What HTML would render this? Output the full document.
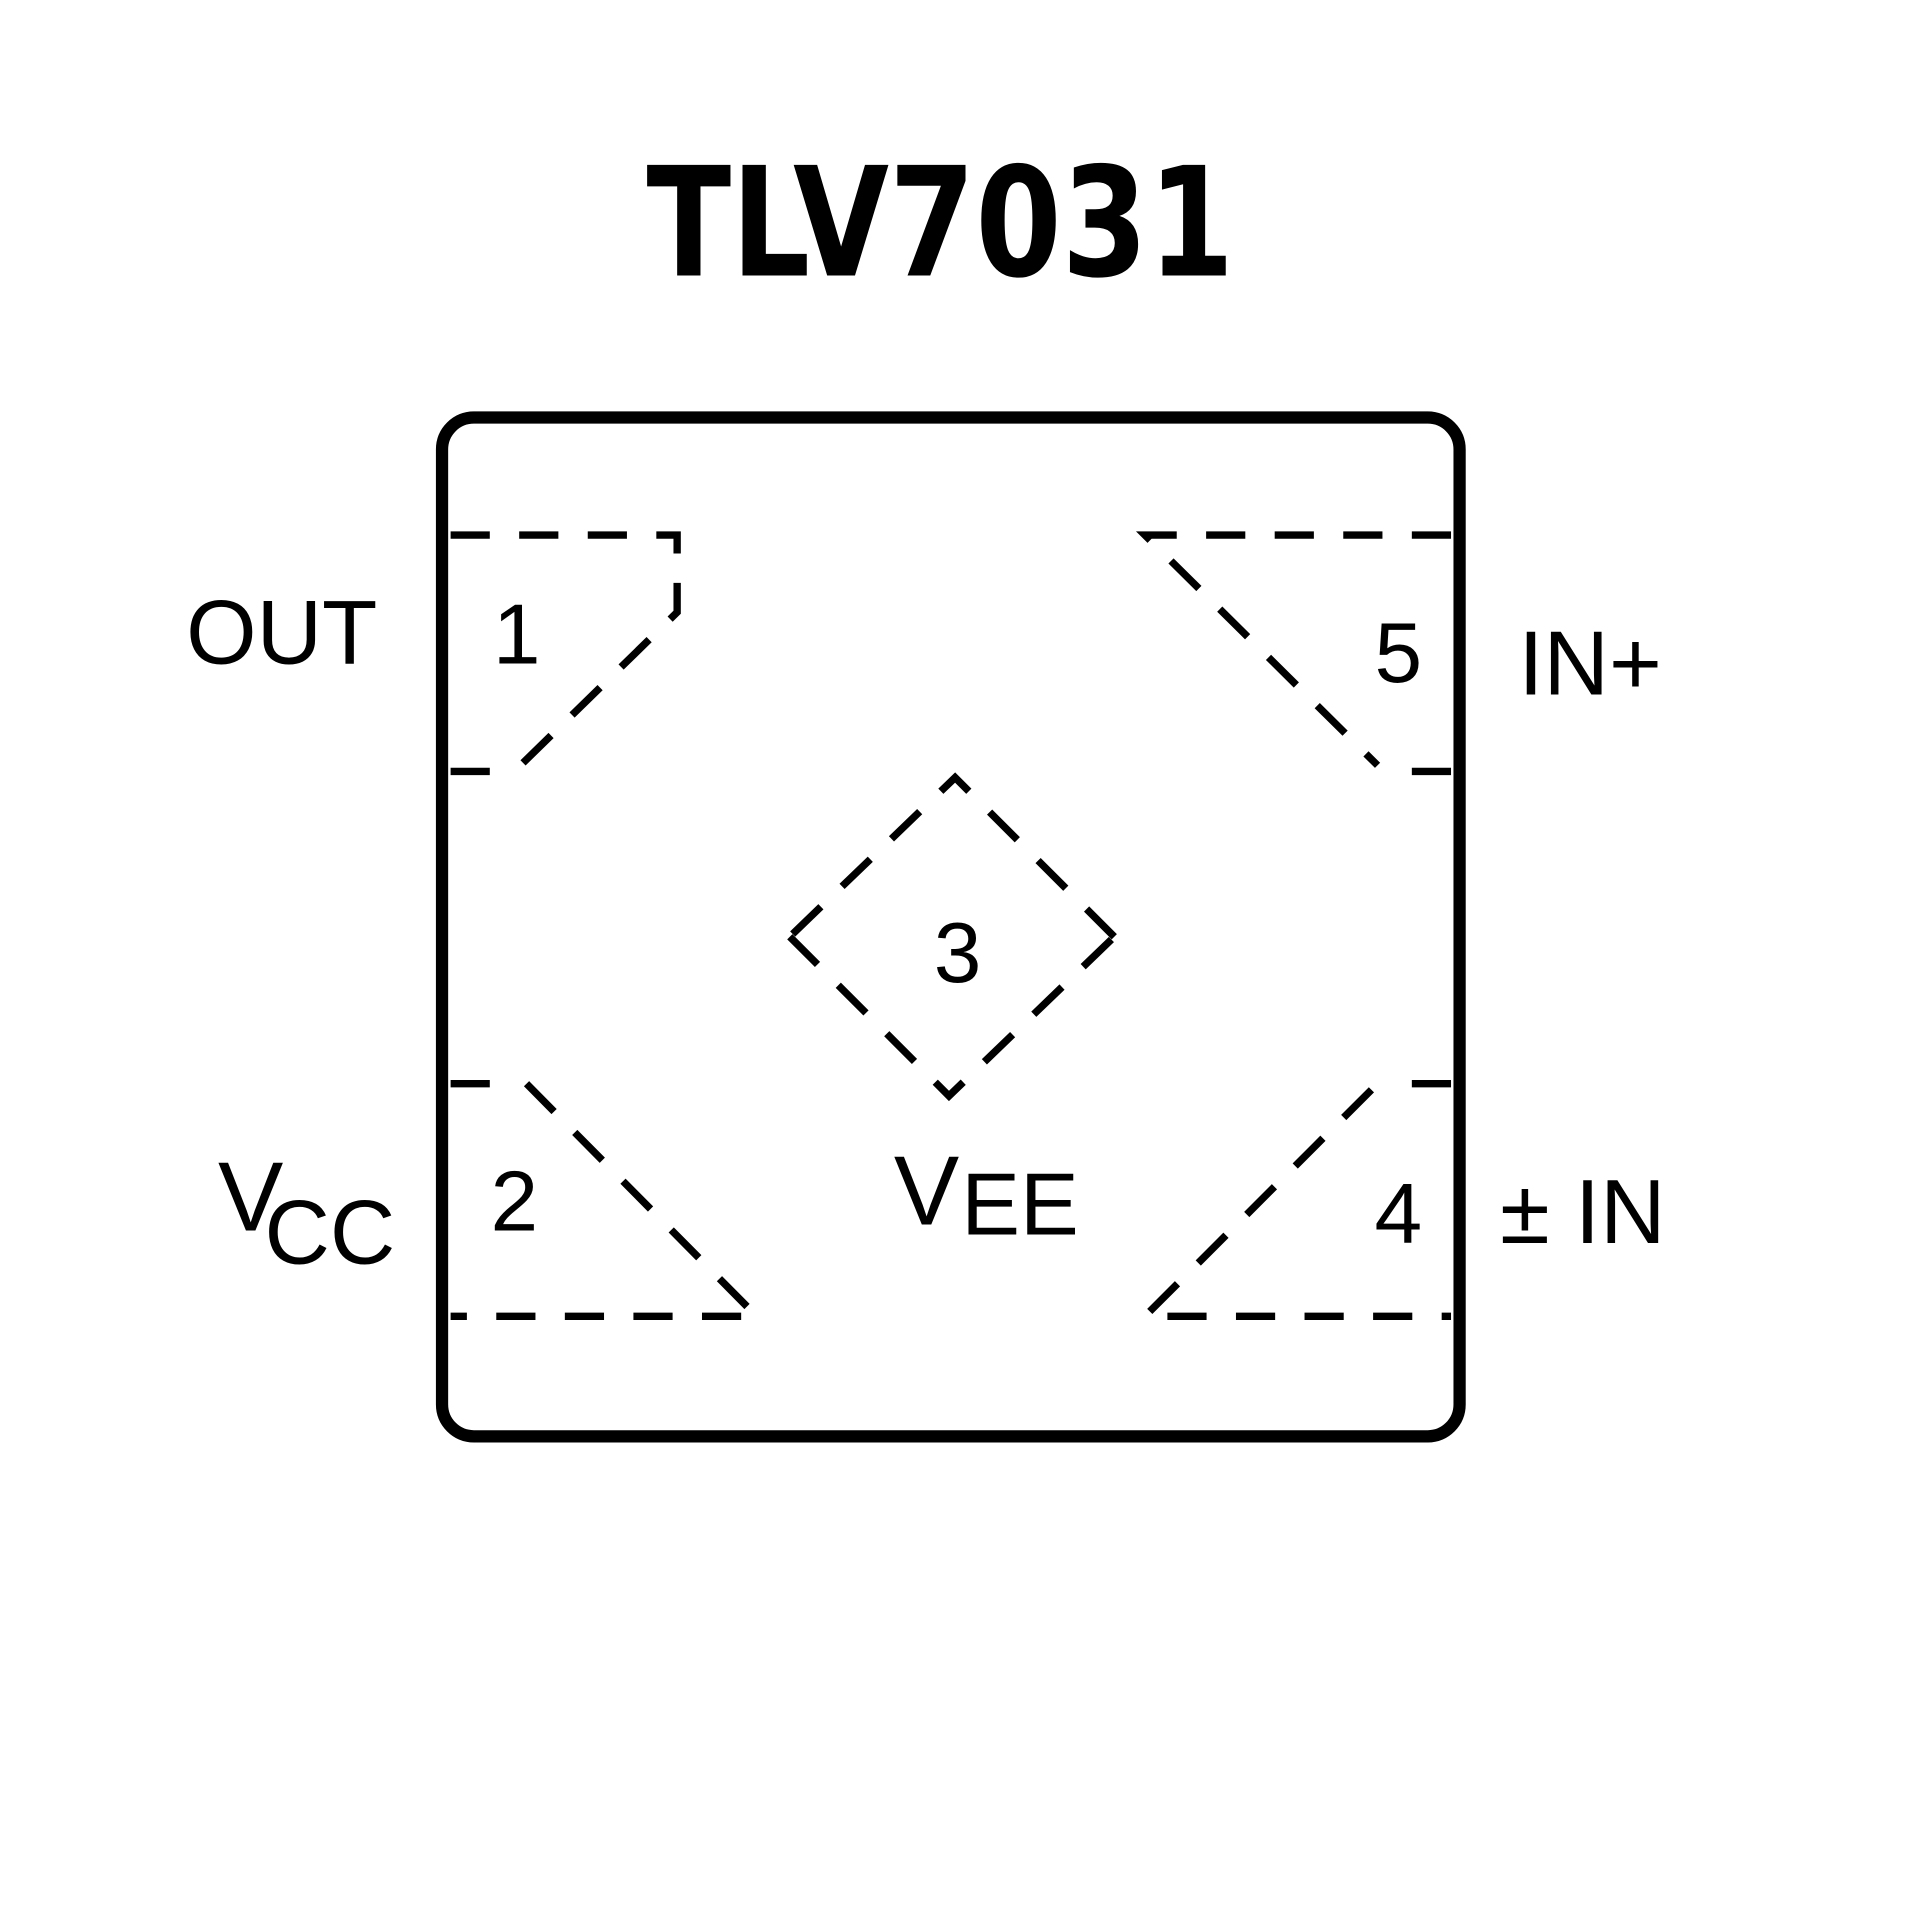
<!DOCTYPE html>
<html><head><meta charset="utf-8"><style>html,body{margin:0;padding:0;background:#fff}svg{display:block}</style></head>
<body>
<svg width="1920" height="1920" viewBox="0 0 1568 1568" xmlns="http://www.w3.org/2000/svg">
<rect x="0" y="0" width="1568" height="1568" fill="#fff"/>
<text x="528" y="225" textLength="480" lengthAdjust="spacingAndGlyphs" font-family="'DejaVu Sans','Liberation Sans',sans-serif" font-weight="bold" font-size="124" fill="#000">TLV7031</text>
<rect x="361" y="341" width="831" height="832" rx="26" ry="26" fill="none" stroke="#000" stroke-width="10"/>
<g fill="none" stroke="#000" stroke-width="6" stroke-dasharray="32 24">
<path d="M368 437 H553 V500 L420 630"/>
<path d="M368 630 H400"/>
<path d="M1185 437 H935 L1125 625"/>
<path d="M1185 630 H1140"/>
<path d="M910 765 L780 635 L645 765"/>
<path d="M645 765 L775 895 L910 765"/>
<path d="M368 885 H410"/>
<path d="M430 885 L618 1075 H368"/>
<path d="M1185 885 H1145"/>
<path d="M1120 890 L935 1075 H1185"/>
</g>
<g font-family="'Liberation Sans',sans-serif" fill="#000">
<text x="152" y="542" font-size="74">OUT</text>
<text x="422" y="542" font-size="70" text-anchor="middle">1</text>
<text x="1142" y="557" font-size="70" text-anchor="middle">5</text>
<text x="1240" y="567" font-size="74">IN+</text>
<text x="782" y="802" font-size="70" text-anchor="middle">3</text>
<text x="730" y="1000" font-size="80">V</text>
<text x="785" y="1008" font-size="72">EE</text>
<text x="420" y="1005" font-size="70" text-anchor="middle">2</text>
<text x="1142" y="1015" font-size="70" text-anchor="middle">4</text>
<text x="1225" y="1015" font-size="74">± IN</text>
<text x="178" y="1005" font-size="80">V</text>
<text x="216" y="1032" font-size="74">CC</text>
</g>
</svg>
</body></html>
